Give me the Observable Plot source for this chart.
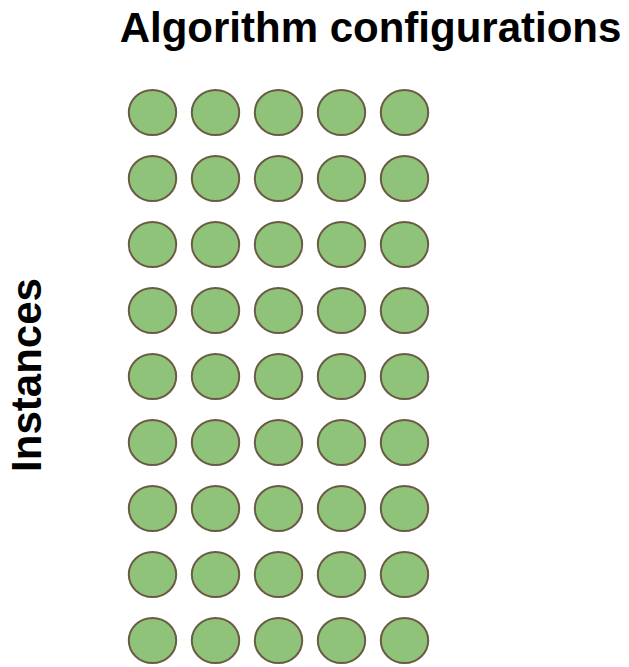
<!DOCTYPE html>
<html>
<head>
<meta charset="utf-8">
<script src="https://cdn.jsdelivr.net/npm/d3@7"></script>
<script src="https://cdn.jsdelivr.net/npm/@observablehq/plot@0.6"></script>
<style>
  html, body { margin: 0; padding: 0; background: #fff; }
  #chart { width: 629px; height: 667px; }
</style>
</head>
<body>
<div id="chart"></div>
<script>
const configurations = [1, 2, 3, 4, 5];
const instances = [1, 2, 3, 4, 5, 6, 7, 8, 9];
const titleText = "Algorithm configurations";
const yLabelText = "Instances";

const cells = [];
for (const inst of instances) {
  for (const conf of configurations) {
    cells.push({conf, inst});
  }
}

const ellipseSymbol = {
  draw(context, size) {
    const rx = Math.sqrt(size / Math.PI);
    const ry = rx * 0.95;
    const k = 0.5522847;
    context.moveTo(rx, 0);
    context.bezierCurveTo(rx, ry * k, rx * k, ry, 0, ry);
    context.bezierCurveTo(-rx * k, ry, -rx, ry * k, -rx, 0);
    context.bezierCurveTo(-rx, -ry * k, -rx * k, -ry, 0, -ry);
    context.bezierCurveTo(rx * k, -ry, rx, -ry * k, rx, 0);
    context.closePath();
  }
};

const font = "'Liberation Sans', Arial, sans-serif";

const chart = Plot.plot({
  width: 629,
  height: 667,
  margin: 0,
  style: {background: "#fff", fontFamily: font},
  x: {type: "point", domain: configurations, range: [150.5, 405.5], padding: 0, axis: null},
  y: {type: "point", domain: instances, range: [109, 643.5], padding: 0, axis: null},
  marks: [
    Plot.dot(cells, {
      x: "conf",
      y: "inst",
      r: 23.7,
      symbol: ellipseSymbol,
      fill: "#8fc37a",
      stroke: "#6b5a44",
      strokeWidth: 2
    }),
    Plot.text([titleText], {
      frameAnchor: "top-left",
      dx: 370,
      dy: 28,
      text: d => d,
      fontSize: 42,
      fontWeight: "bold",
      fill: "#000",
      textAnchor: "middle",
      lineAnchor: "middle"
    }),
    Plot.text([yLabelText], {
      frameAnchor: "top-left",
      dx: 26.6,
      dy: 374.5,
      text: d => d,
      rotate: -90,
      fontSize: 42,
      fontWeight: "bold",
      fill: "#000",
      textAnchor: "middle",
      lineAnchor: "middle"
    })
  ]
});

document.getElementById("chart").appendChild(chart);
</script>
</body>
</html>
